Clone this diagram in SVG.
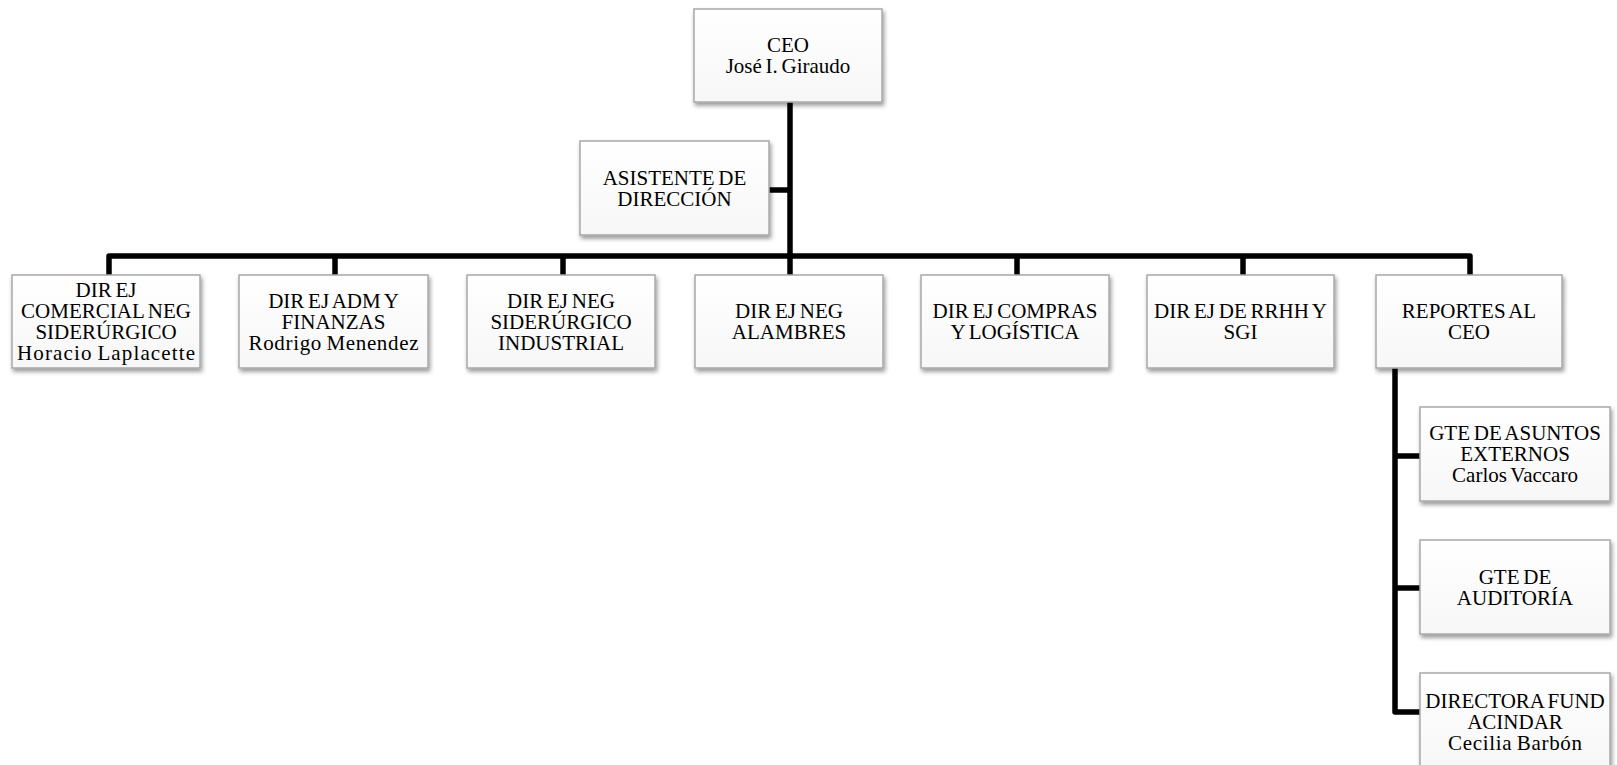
<svg xmlns="http://www.w3.org/2000/svg" width="1617" height="765" viewBox="0 0 1617 765">
<defs>
<filter id="sh" x="-10%" y="-10%" width="125%" height="130%">
<feDropShadow dx="1.5" dy="3" stdDeviation="2" flood-color="#000" flood-opacity="0.4"/>
</filter>
<linearGradient id="gf" x1="0" y1="0" x2="0" y2="1">
<stop offset="0" stop-color="#ffffff"/>
<stop offset="1" stop-color="#f7f7f7"/>
</linearGradient>
</defs>
<style>
.box{fill:url(#gf);stroke:#a8a8a8;stroke-width:1.5;filter:url(#sh)}
.t{font-family:"Liberation Serif","Times New Roman",serif;font-size:21px;fill:#000;text-anchor:middle;word-spacing:-1.5px}
.c{fill:none;stroke:#000;stroke-width:5.5;stroke-linejoin:round;stroke-linecap:butt}
</style>
<rect width="1617" height="765" fill="#fff"/>
<g id="connectors">
<path class="c" d="M790,102 V275"/>
<path class="c" d="M769,190 H790"/>
<path class="c" d="M109,275 V256 H1470 V275"/>
<path class="c" d="M335,256 V275"/>
<path class="c" d="M563,256 V275"/>
<path class="c" d="M1017,256 V275"/>
<path class="c" d="M1243,256 V275"/>
<path class="c" d="M1395,368 V712 H1420"/>
<path class="c" d="M1395,456 H1420"/>
<path class="c" d="M1395,588 H1420"/>
</g>
<g id="ceo">
<rect class="box" x="694" y="9" width="188" height="93"/>
<text class="t" x="788" y="52">CEO</text>
<text class="t" x="788" y="73">José I. Giraudo</text>
</g>
<g id="asistente">
<rect class="box" x="580" y="141" width="189" height="94"/>
<text class="t" x="674.5" y="184.5">ASISTENTE DE</text>
<text class="t" x="674.5" y="205.5">DIRECCIÓN</text>
</g>
<g id="dir-comercial">
<rect class="box" x="12" y="275" width="188" height="93"/>
<text class="t" x="106" y="297">DIR EJ</text>
<text class="t" x="106" y="318">COMERCIAL NEG</text>
<text class="t" x="106" y="339">SIDERÚRGICO</text>
<text class="t" x="106" y="360" textLength="178" lengthAdjust="spacing">Horacio Laplacette</text>
</g>
<g id="dir-adm">
<rect class="box" x="239" y="275" width="189" height="93"/>
<text class="t" x="333.5" y="307.5">DIR EJ ADM Y</text>
<text class="t" x="333.5" y="328.5">FINANZAS</text>
<text class="t" x="333.5" y="349.5" textLength="170" lengthAdjust="spacing">Rodrigo Menendez</text>
</g>
<g id="dir-siderurgico">
<rect class="box" x="467" y="275" width="188" height="93"/>
<text class="t" x="561" y="307.5">DIR EJ NEG</text>
<text class="t" x="561" y="328.5">SIDERÚRGICO</text>
<text class="t" x="561" y="349.5">INDUSTRIAL</text>
</g>
<g id="dir-alambres">
<rect class="box" x="695" y="275" width="188" height="93"/>
<text class="t" x="789" y="318">DIR EJ NEG</text>
<text class="t" x="789" y="339">ALAMBRES</text>
</g>
<g id="dir-compras">
<rect class="box" x="921" y="275" width="188" height="93"/>
<text class="t" x="1015" y="318">DIR EJ COMPRAS</text>
<text class="t" x="1015" y="339">Y LOGÍSTICA</text>
</g>
<g id="dir-rrhh">
<rect class="box" x="1147" y="275" width="187" height="93"/>
<text class="t" x="1240.5" y="318">DIR EJ DE RRHH Y</text>
<text class="t" x="1240.5" y="339">SGI</text>
</g>
<g id="reportes">
<rect class="box" x="1376" y="275" width="186" height="93"/>
<text class="t" x="1469" y="318">REPORTES AL</text>
<text class="t" x="1469" y="339">CEO</text>
</g>
<g id="gte-asuntos">
<rect class="box" x="1420" y="407" width="190" height="94"/>
<text class="t" x="1515" y="440">GTE DE ASUNTOS</text>
<text class="t" x="1515" y="461">EXTERNOS</text>
<text class="t" x="1515" y="482">Carlos Vaccaro</text>
</g>
<g id="gte-auditoria">
<rect class="box" x="1420" y="540" width="190" height="94"/>
<text class="t" x="1515" y="583.5">GTE DE</text>
<text class="t" x="1515" y="604.5">AUDITORÍA</text>
</g>
<g id="directora-fund">
<rect class="box" x="1420" y="673" width="190" height="94"/>
<text class="t" x="1515" y="708">DIRECTORA FUND</text>
<text class="t" x="1515" y="729">ACINDAR</text>
<text class="t" x="1515" y="750" textLength="134" lengthAdjust="spacing">Cecilia Barbón</text>
</g>
</svg>
